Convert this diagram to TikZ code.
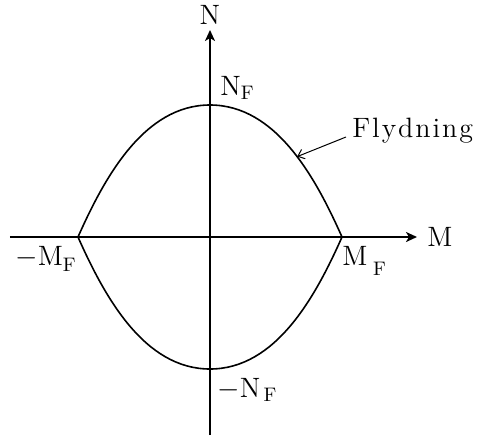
\documentclass[tikz,border=0pt]{standalone}
\usepackage{fontspec}
\newfontfamily\spaced{Latin Modern Roman}[LetterSpace=7]
\usepackage{tikz}
\usetikzlibrary{arrows.meta,positioning}

\begin{document}
\begin{tikzpicture}[x=0.5pt, y=0.5pt, every node/.style={font=\fontsize{14}{16}\selectfont, inner sep=0pt}]
\tikzset{axis/.style={line width=1pt, -{Stealth[length=5.5pt,width=5pt,inset=1.5pt]}}}
\tikzset{yield/.style={line width=0.8pt}}
\tikzset{leader/.style={line width=0.5pt, {Straight Barb[length=3pt,width=5pt]}-}}
\useasboundingbox (-210,-198) rectangle (271,237);
% axes
\coordinate (mstart) at (-200,0);
\coordinate (mtip) at (207,0);
\coordinate (nstart) at (0,-198);
\coordinate (ntip) at (0,207);
\draw[axis] (mstart) -- (mtip);
\draw[axis] (nstart) -- (ntip);
\node[right=5pt of mtip] (mlab) {M};
\node[above=2.5pt of ntip] (nlab) {N};
% yield curve
\coordinate (mR) at (132,0);
\coordinate (mL) at (-132,0);
\coordinate (nT) at (0,132);
\coordinate (nB) at (0,-132);
\draw[yield] (mR) .. controls (105.6,59.4) and (66,132) .. (nT)
  .. controls (-66,132) and (-105.6,59.4) .. (mL)
  .. controls (-105.6,-59.4) and (-66,-132) .. (nB)
  .. controls (66,-132) and (105.6,-59.4) .. (mR);
\path (mR) .. controls (105.6,59.4) and (66,132) .. (nT) coordinate[pos=0.45] (fl);
% labels
\node[anchor=base west] (nF) at (10,142) {$\mathrm{N}_\mathrm{F}$};
\node[anchor=base west] (nFneg) at (7,-160) {$-\mathrm{N}_{\,\mathrm{F}}$};
\node[anchor=base west] (mFneg) at (-195,-28) {$-\mathrm{M}_{\lower1pt\hbox{$\scriptstyle\mathrm{F}$}}$};
\node[anchor=base west] (mF) at (132,-28) {$\mathrm{M}_{\;\lower3pt\hbox{$\scriptstyle\mathrm{F}$}}$};
\node[anchor=base west] (flyd) at (142,100) {\spaced Flydning};
\draw[leader] (fl) -- ([xshift=-3pt]flyd.base west);
\end{tikzpicture}
\end{document}
